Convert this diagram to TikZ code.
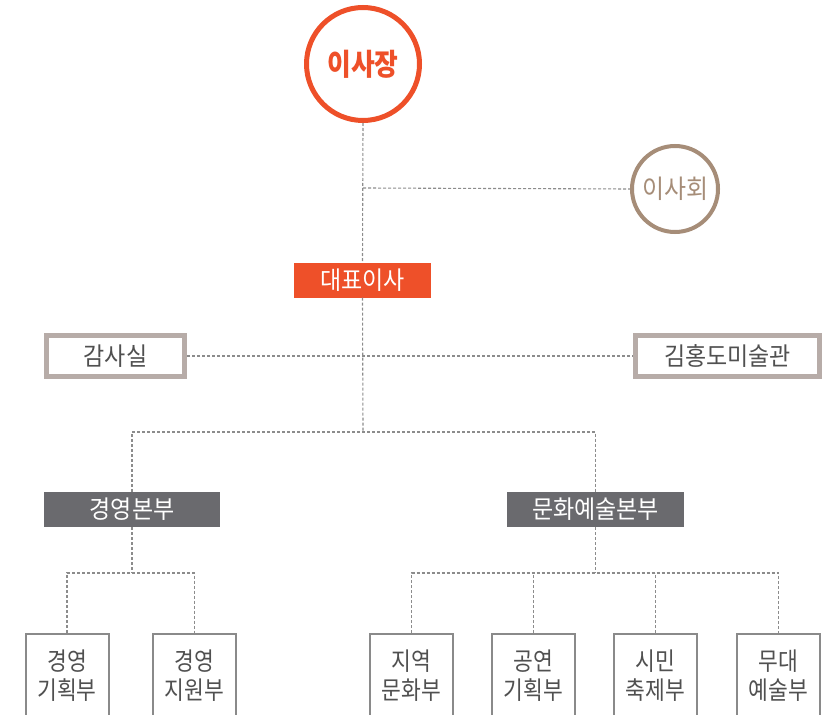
\documentclass[tikz,border=0pt]{standalone}
\usepackage{fontspec}
\newfontfamily\kr[FakeStretch=0.92]{Noto Sans CJK KR}
\newfontfamily\krc[FakeStretch=0.86]{Noto Sans CJK KR}
\definecolor{orng}{HTML}{EE5029}
\definecolor{tan}{HTML}{A68D78}
\definecolor{boxb}{HTML}{B7ACA8}
\definecolor{dgray}{HTML}{6A6A6E}
\definecolor{txt}{HTML}{505050}
\definecolor{lgray}{HTML}{8C8C8C}
\definecolor{bgray}{HTML}{8A8A8A}
\begin{document}
\begin{tikzpicture}[x=1pt,y=-1pt,
  dl/.style={draw=lgray, line width=1.1pt, dash pattern=on 3pt off 2pt},
  fillbox/.style={rectangle, inner sep=0pt, minimum height=35pt, text=white, font=\kr\fontsize{25}{25}\selectfont},
  thickbox/.style={rectangle, draw=boxb, line width=5pt, fill=white, inner sep=0pt, minimum height=41.5pt, text=txt, font=\kr\fontsize{25}{25}\selectfont},
  deptbox/.style={rectangle, draw=bgray, line width=2pt, fill=white, inner sep=0pt, minimum width=83pt, minimum height=120pt, anchor=north},
  depttext/.style={align=center, text=txt, font=\krc\fontsize{25}{29}\selectfont, inner sep=0pt}
]
\useasboundingbox (0,0) rectangle (837,714);
\clip (0,0) rectangle (837,714);
\fill[white] (0,0) rectangle (837,714);

% nodes
\node[circle, draw=orng, line width=5pt, fill=white, minimum size=113pt, inner sep=0pt,
      text=orng, font=\krc\bfseries\fontsize{30}{30}\selectfont] (ceo) at (363,64) {이사장};
\node[circle, draw=tan, line width=4pt, fill=white, minimum size=86pt, inner sep=0pt,
      text=tan, font=\kr\fontsize{26}{26}\selectfont] (board) at (675,189) {이사회};
\node[fillbox, fill=orng, minimum width=137pt] (rep) at (362.5,280) {대표이사};
\node[thickbox, minimum width=138pt] (audit) at (115.5,356) {감사실};
\node[thickbox, minimum width=184pt] (museum) at (727.5,356) {김홍도미술관};
\node[fillbox, fill=dgray, minimum width=176pt] (mgmt) at (132,509.5) {경영본부};
\node[fillbox, fill=dgray, minimum width=177pt] (cult) at (595.5,509.5) {문화예술본부};

\coordinate (j1) at (363,188);
\coordinate (j2) at (363,432);
\coordinate (j3) at (132,573);
\coordinate (j4) at (595.5,573);

% dept boxes
\node[deptbox] (b1) at (67,633) {};
\node[deptbox] (b2) at (194.5,633) {};
\node[deptbox] (c1) at (411.5,633) {};
\node[deptbox] (c2) at (533.5,633) {};
\node[deptbox] (c3) at (655.5,633) {};
\node[deptbox] (c4) at (778.5,633) {};

\node[depttext] (b1t) at (67,676) {경영\\기획부};
\node[depttext] (b2t) at (194.5,676) {경영\\지원부};
\node[depttext] (c1t) at (411.5,676) {지역\\문화부};
\node[depttext] (c2t) at (533.5,676) {공연\\기획부};
\node[depttext] (c3t) at (655.5,676) {시민\\축제부};
\node[depttext] (c4t) at (778.5,676) {무대\\예술부};

% connectors
\draw[dl] (ceo.south) -- (rep.north);
\draw[dl] (j1) -- (board.west);
\draw[dl] (audit.east) -- (museum.west);
\draw[dl] (rep.south) -- (j2);
\draw[dl] (mgmt.north) |- (j2) -| (cult.north);
\draw[dl] (mgmt.south) -- (j3);
\draw[dl] (b1.north) |- (j3) -| (b2.north);
\draw[dl] (cult.south) -- (j4);
\draw[dl] (c1.north) |- (j4) -| (c4.north);
\draw[dl] (c2.north) -- (c2.north |- j4);
\draw[dl] (c3.north) -- (c3.north |- j4);
\end{tikzpicture}
\end{document}
